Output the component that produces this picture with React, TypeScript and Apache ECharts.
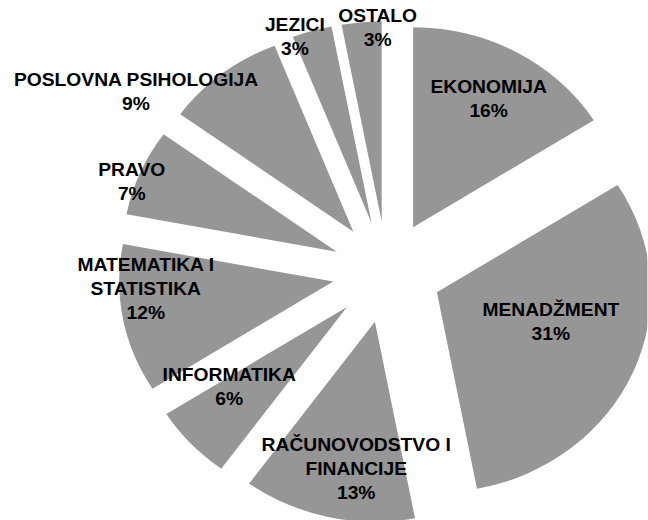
import React, { useEffect, useRef } from "react";
import * as echarts from "echarts";

// Data (clockwise from 12 o'clock)
const categories = [
  "EKONOMIJA",
  "MENADŽMENT",
  "RAČUNOVODSTVO I FINANCIJE",
  "INFORMATIKA",
  "MATEMATIKA I STATISTIKA",
  "PRAVO",
  "POSLOVNA PSIHOLOGIJA",
  "JEZICI",
  "OSTALO",
];
const shares = [16, 31, 13, 6, 12, 7, 9, 3, 3];

// Label nudges (px) from the default inside position, to mimic the reference's best-fit placement
const labelNudges: [number, number][] = [
  [21, -38],
  [12, -11],
  [5, 46],
  [-35, 9],
  [-74, -12],
  [-97, -29],
  [-140, -59],
  [-43, -87],
  [6, -91],
];

const STRETCH = 1.07;
const WIDTH = 605;
const HEIGHT = 520;
const SLICE_COLOR = "#969696";

export default function App() {
  const ref = useRef<HTMLDivElement>(null);

  useEffect(() => {
    document.body.style.margin = "0";
    const chart = echarts.init(ref.current!, null, { renderer: "svg" });
    chart.setOption({
      animation: false,
      backgroundColor: "#ffffff",
      series: [
        {
          type: "pie",
          center: [361.5, 272],
          radius: 200,
          startAngle: 90,
          clockwise: true,
          selectedMode: "multiple",
          selectedOffset: 51,
          avoidLabelOverlap: false,
          minShowLabelAngle: 0,
          emphasis: { disabled: true },
          itemStyle: { color: SLICE_COLOR, borderWidth: 0 },
          select: { itemStyle: { color: SLICE_COLOR, borderWidth: 0 } },
          label: {
            show: true,
            position: "inside",
            formatter: (p: any) =>
              `${String(p.name).replace(" I ", " I\n")}\n${Math.round(p.percent)}%`,
            color: "#000000",
            fontFamily: "'Liberation Sans', Arial, sans-serif",
            fontWeight: "bold",
            fontSize: 18,
            lineHeight: 24,
            align: "center",
          },
          labelLine: { show: false },
          labelLayout: (params: any) => {
            const [dx, dy] = labelNudges[params.dataIndex];
            return { dx, dy };
          },
          data: categories.map((name, i) => ({
            name,
            value: shares[i],
            selected: true,
          })),
        },
      ],
    });
    return () => chart.dispose();
  }, []);

  return (
    <div
      ref={ref}
      style={{
        position: "absolute",
        left: 0,
        top: 0,
        width: WIDTH,
        height: HEIGHT,
        transform: `scaleX(${STRETCH})`,
        transformOrigin: "0 0",
      }}
    />
  );
}
